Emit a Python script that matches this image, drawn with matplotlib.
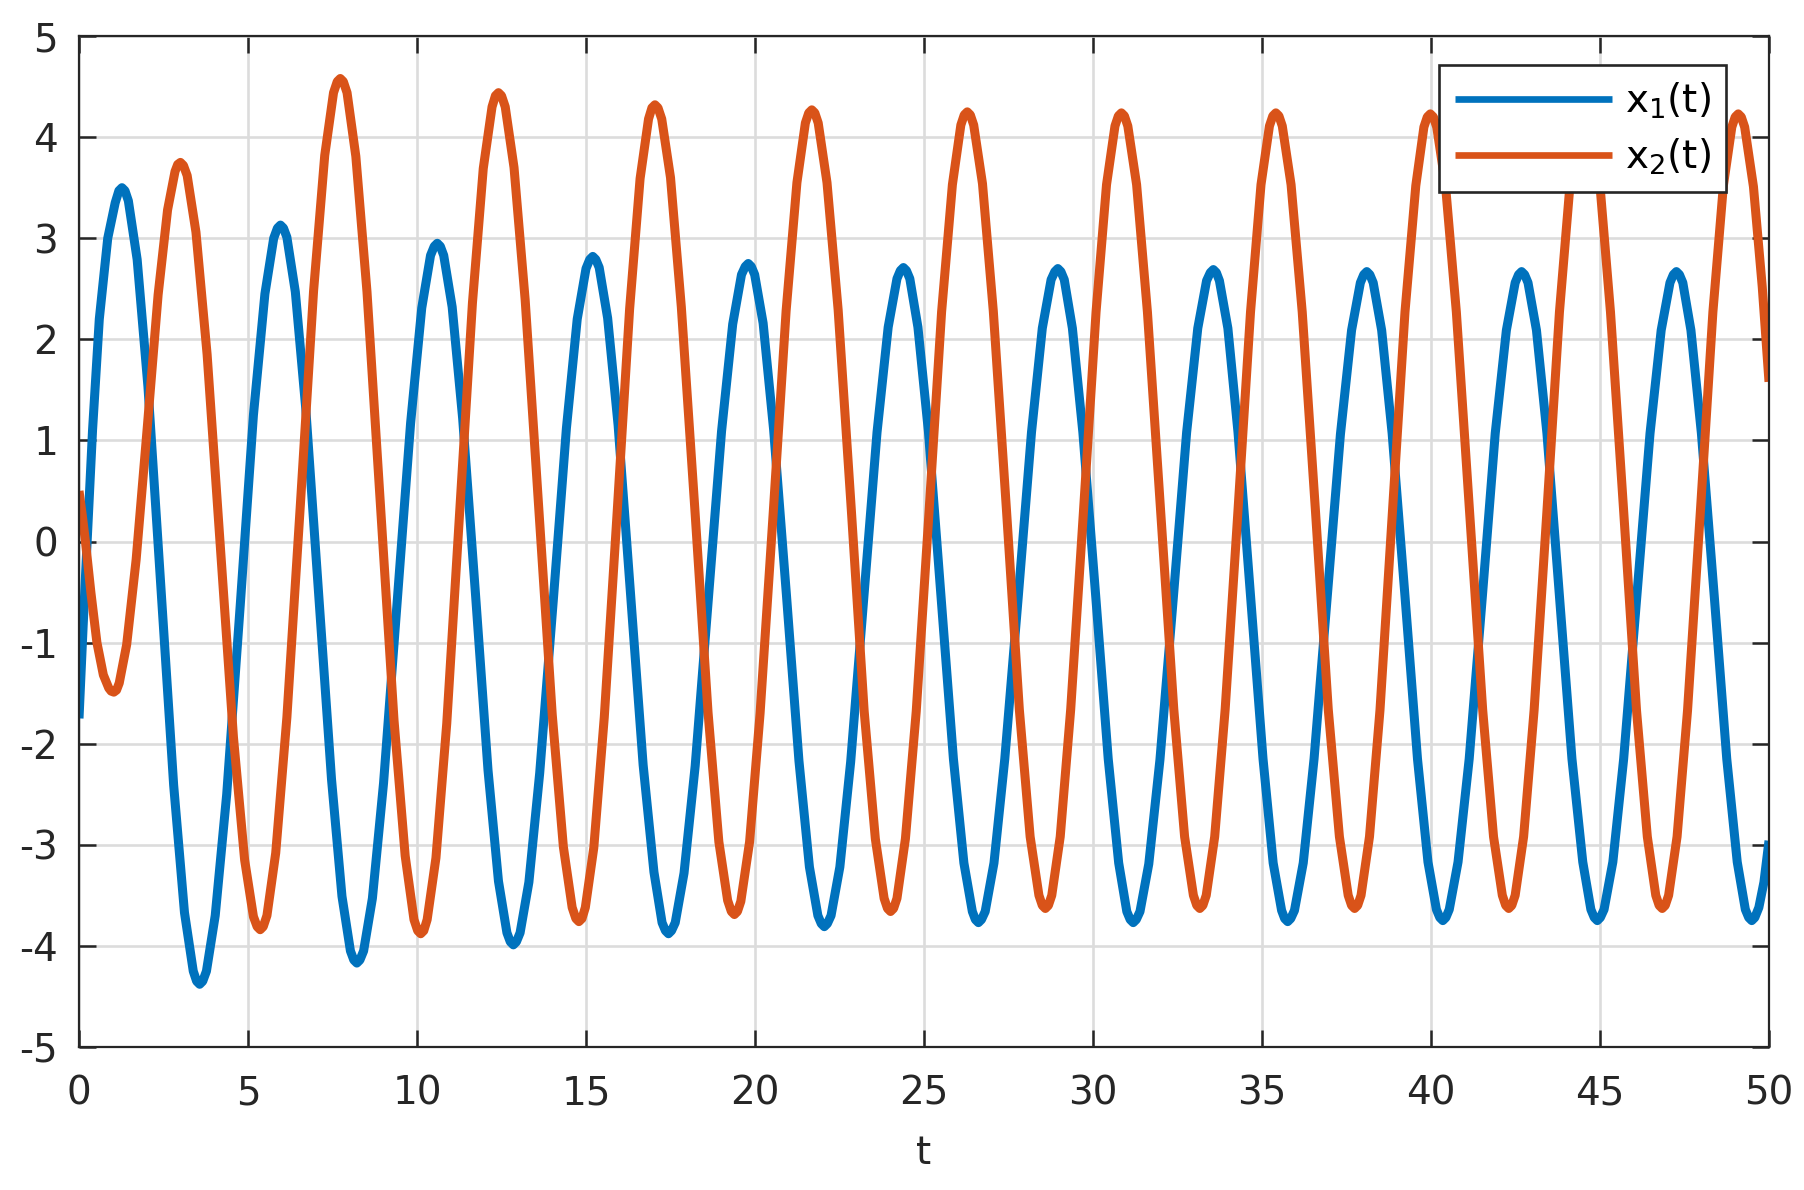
import matplotlib
matplotlib.use("Agg")
import matplotlib.pyplot as plt

# values: one row per half swing,
# from one extremum up to (not including) the next one
t1 = [
    0.00, 0.12, 0.24, 0.40, 0.60, 0.85, 1.07, 1.18,
    1.27, 1.36, 1.46, 1.72, 2.04, 2.42, 2.80, 3.12, 3.38, 3.48,
    3.57, 3.66, 3.77, 4.03, 4.37, 4.77, 5.16, 5.50, 5.76, 5.87,
    5.96, 6.05, 6.15, 6.40, 6.71, 7.09, 7.47, 7.78, 8.03, 8.13,
    8.22, 8.31, 8.42, 8.68, 9.01, 9.41, 9.81, 10.14, 10.40, 10.51,
    10.60, 10.69, 10.79, 11.04, 11.35, 11.73, 12.10, 12.41, 12.66, 12.76,
    12.85, 12.94, 13.05, 13.31, 13.63, 14.03, 14.42, 14.74, 15.00, 15.11,
    15.20, 15.29, 15.39, 15.64, 15.95, 16.32, 16.69, 17.01, 17.25, 17.35,
    17.44, 17.53, 17.64, 17.90, 18.23, 18.62, 19.01, 19.34, 19.60, 19.71,
    19.80, 19.89, 19.99, 20.24, 20.55, 20.93, 21.30, 21.61, 21.86, 21.96,
    22.05, 22.14, 22.25, 22.51, 22.83, 23.22, 23.61, 23.94, 24.20, 24.30,
    24.39, 24.48, 24.58, 24.82, 25.13, 25.50, 25.87, 26.18, 26.43, 26.52,
    26.61, 26.70, 26.81, 27.07, 27.39, 27.79, 28.18, 28.50, 28.76, 28.87,
    28.96, 29.05, 29.15, 29.39, 29.70, 30.08, 30.45, 30.76, 31.00, 31.10,
    31.19, 31.28, 31.39, 31.65, 31.98, 32.38, 32.77, 33.10, 33.36, 33.47,
    33.56, 33.65, 33.74, 33.99, 34.29, 34.66, 35.03, 35.33, 35.58, 35.67,
    35.76, 35.85, 35.96, 36.22, 36.54, 36.93, 37.32, 37.65, 37.91, 38.01,
    38.10, 38.19, 38.29, 38.54, 38.85, 39.23, 39.60, 39.91, 40.16, 40.26,
    40.35, 40.44, 40.54, 40.80, 41.13, 41.52, 41.90, 42.23, 42.49, 42.59,
    42.68, 42.77, 42.87, 43.12, 43.43, 43.80, 44.17, 44.49, 44.73, 44.83,
    44.92, 45.01, 45.12, 45.38, 45.70, 46.09, 46.48, 46.81, 47.07, 47.17,
    47.26, 47.35, 47.45, 47.69, 48.00, 48.38, 48.75, 49.06, 49.30, 49.40,
    49.49, 49.58, 49.70, 49.85, 50.00,
]
x1 = [
    -1.75, -0.85, 0.00, 1.10, 2.20, 3.00, 3.35, 3.47,
    3.50, 3.47, 3.37, 2.79, 1.53, -0.44, -2.41, -3.67, -4.25, -4.35,
    -4.38, -4.35, -4.25, -3.70, -2.50, -0.63, 1.25, 2.45, 3.00, 3.10,
    3.13, 3.10, 3.01, 2.47, 1.31, -0.52, -2.35, -3.51, -4.05, -4.14,
    -4.17, -4.14, -4.05, -3.53, -2.39, -0.61, 1.17, 2.31, 2.83, 2.92,
    2.95, 2.92, 2.83, 2.32, 1.22, -0.52, -2.26, -3.36, -3.87, -3.96,
    -3.99, -3.96, -3.87, -3.37, -2.29, -0.59, 1.12, 2.20, 2.70, 2.79,
    2.82, 2.79, 2.71, 2.21, 1.15, -0.53, -2.21, -3.27, -3.77, -3.85,
    -3.88, -3.85, -3.77, -3.28, -2.22, -0.57, 1.09, 2.15, 2.64, 2.72,
    2.75, 2.72, 2.64, 2.16, 1.11, -0.53, -2.17, -3.22, -3.70, -3.78,
    -3.81, -3.78, -3.70, -3.22, -2.18, -0.55, 1.08, 2.12, 2.60, 2.68,
    2.71, 2.68, 2.60, 2.12, 1.09, -0.53, -2.15, -3.18, -3.66, -3.74,
    -3.77, -3.74, -3.66, -3.18, -2.15, -0.54, 1.08, 2.11, 2.59, 2.67,
    2.70, 2.67, 2.59, 2.11, 1.08, -0.54, -2.15, -3.18, -3.66, -3.74,
    -3.77, -3.74, -3.66, -3.19, -2.16, -0.54, 1.08, 2.11, 2.58, 2.66,
    2.69, 2.66, 2.58, 2.11, 1.08, -0.54, -2.15, -3.18, -3.65, -3.73,
    -3.76, -3.73, -3.65, -3.18, -2.15, -0.55, 1.06, 2.09, 2.56, 2.64,
    2.67, 2.64, 2.56, 2.09, 1.07, -0.54, -2.15, -3.17, -3.64, -3.72,
    -3.75, -3.72, -3.64, -3.17, -2.15, -0.54, 1.07, 2.09, 2.56, 2.64,
    2.67, 2.64, 2.56, 2.09, 1.07, -0.54, -2.15, -3.17, -3.64, -3.72,
    -3.75, -3.72, -3.64, -3.17, -2.15, -0.54, 1.07, 2.09, 2.56, 2.64,
    2.67, 2.64, 2.56, 2.09, 1.07, -0.54, -2.15, -3.17, -3.64, -3.72,
    -3.75, -3.72, -3.62, -3.37, -2.96,
]

t2 = [
    0.00, 0.10, 0.19, 0.35, 0.53, 0.72, 0.88, 0.95,
    1.03, 1.11, 1.19, 1.41, 1.69, 2.02, 2.34, 2.62, 2.84, 2.92,
    3.00, 3.09, 3.20, 3.46, 3.79, 4.18, 4.57, 4.90, 5.16, 5.27,
    5.36, 5.45, 5.56, 5.82, 6.15, 6.55, 6.94, 7.27, 7.53, 7.64,
    7.73, 7.82, 7.93, 8.19, 8.52, 8.92, 9.32, 9.65, 9.91, 10.02,
    10.11, 10.20, 10.30, 10.56, 10.88, 11.26, 11.64, 11.96, 12.22, 12.32,
    12.41, 12.50, 12.61, 12.87, 13.20, 13.60, 14.00, 14.33, 14.59, 14.70,
    14.79, 14.88, 14.98, 15.23, 15.54, 15.92, 16.29, 16.60, 16.85, 16.95,
    17.04, 17.13, 17.24, 17.50, 17.82, 18.22, 18.61, 18.93, 19.19, 19.30,
    19.39, 19.48, 19.58, 19.84, 20.15, 20.54, 20.92, 21.24, 21.49, 21.59,
    21.68, 21.77, 21.87, 22.13, 22.46, 22.85, 23.23, 23.56, 23.82, 23.92,
    24.01, 24.10, 24.20, 24.45, 24.77, 25.15, 25.52, 25.84, 26.09, 26.19,
    26.28, 26.37, 26.47, 26.73, 27.05, 27.44, 27.82, 28.14, 28.40, 28.50,
    28.59, 28.68, 28.78, 29.03, 29.34, 29.72, 30.09, 30.40, 30.65, 30.75,
    30.84, 30.93, 31.03, 31.29, 31.61, 32.00, 32.39, 32.71, 32.97, 33.07,
    33.16, 33.25, 33.35, 33.60, 33.91, 34.29, 34.66, 34.97, 35.22, 35.32,
    35.41, 35.50, 35.60, 35.86, 36.19, 36.58, 36.96, 37.29, 37.55, 37.65,
    37.74, 37.83, 37.93, 38.18, 38.49, 38.86, 39.23, 39.55, 39.79, 39.89,
    39.98, 40.07, 40.17, 40.43, 40.75, 41.14, 41.53, 41.85, 42.11, 42.21,
    42.30, 42.39, 42.49, 42.74, 43.05, 43.43, 43.80, 44.11, 44.36, 44.46,
    44.55, 44.64, 44.74, 45.00, 45.31, 45.70, 46.08, 46.40, 46.65, 46.75,
    46.84, 46.93, 47.03, 47.28, 47.59, 47.97, 48.34, 48.65, 48.90, 49.00,
    49.09, 49.18, 49.28, 49.54, 49.80, 50.00,
]
x2 = [
    0.50, 0.25, 0.00, -0.50, -1.00, -1.32, -1.45, -1.48,
    -1.49, -1.47, -1.40, -1.02, -0.18, 1.13, 2.44, 3.28, 3.66, 3.73,
    3.75, 3.72, 3.62, 3.06, 1.85, -0.05, -1.94, -3.15, -3.71, -3.81,
    -3.84, -3.81, -3.70, -3.08, -1.74, 0.37, 2.48, 3.82, 4.44, 4.55,
    4.58, 4.55, 4.44, 3.81, 2.47, 0.35, -1.77, -3.11, -3.74, -3.85,
    -3.88, -3.85, -3.74, -3.13, -1.80, 0.28, 2.36, 3.69, 4.30, 4.41,
    4.44, 4.41, 4.30, 3.70, 2.39, 0.34, -1.71, -3.02, -3.62, -3.73,
    -3.76, -3.73, -3.62, -3.03, -1.74, 0.28, 2.30, 3.59, 4.18, 4.29,
    4.32, 4.29, 4.18, 3.60, 2.32, 0.32, -1.69, -2.97, -3.55, -3.66,
    -3.69, -3.66, -3.56, -2.97, -1.70, 0.29, 2.28, 3.55, 4.14, 4.24,
    4.27, 4.24, 4.14, 3.55, 2.29, 0.31, -1.68, -2.94, -3.53, -3.63,
    -3.66, -3.63, -3.53, -2.94, -1.68, 0.30, 2.27, 3.53, 4.12, 4.22,
    4.25, 4.22, 4.12, 3.54, 2.28, 0.31, -1.66, -2.92, -3.50, -3.60,
    -3.63, -3.60, -3.50, -2.92, -1.66, 0.31, 2.27, 3.53, 4.11, 4.21,
    4.24, 4.21, 4.11, 3.53, 2.27, 0.31, -1.66, -2.92, -3.50, -3.60,
    -3.63, -3.60, -3.50, -2.92, -1.66, 0.31, 2.27, 3.53, 4.11, 4.21,
    4.24, 4.21, 4.11, 3.53, 2.27, 0.31, -1.66, -2.92, -3.50, -3.60,
    -3.63, -3.60, -3.50, -2.92, -1.67, 0.30, 2.27, 3.52, 4.10, 4.20,
    4.23, 4.20, 4.10, 3.52, 2.27, 0.30, -1.67, -2.92, -3.50, -3.60,
    -3.63, -3.60, -3.50, -2.92, -1.67, 0.30, 2.27, 3.52, 4.10, 4.20,
    4.23, 4.20, 4.10, 3.52, 2.27, 0.30, -1.67, -2.92, -3.50, -3.60,
    -3.63, -3.60, -3.50, -2.92, -1.67, 0.30, 2.27, 3.52, 4.10, 4.20,
    4.23, 4.20, 4.10, 3.51, 2.52, 1.58,
]

x_ticks = [0, 5, 10, 15, 20, 25, 30, 35, 40, 45, 50]
y_ticks = [-5, -4, -3, -2, -1, 0, 1, 2, 3, 4, 5]
labels = ["x$_1$(t)", "x$_2$(t)"]

plt.rcParams["font.family"] = ["DejaVu Sans"]
plt.rcParams["mathtext.default"] = "regular"
plt.rcParams["axes.unicode_minus"] = False

fig = plt.figure(figsize=(18.04, 11.90), dpi=100)
ax = fig.add_axes([0.0438, 0.1202, 0.9368, 0.8495])

ax.plot(t1, x1, color="#0072BD", lw=6.5, solid_joinstyle="round", solid_capstyle="butt", label=labels[0])
ax.plot(t2, x2, color="#D95319", lw=6.5, solid_joinstyle="round", solid_capstyle="butt", label=labels[1])

ax.set_xlim(0, 50)
ax.set_ylim(-5, 5)
ax.set_xticks(x_ticks)
ax.set_yticks(y_ticks)
ax.set_xticklabels([str(v) for v in x_ticks])
ax.set_yticklabels([str(v) for v in y_ticks])

ax.grid(True, color="#dcdcdc", lw=1.9)
ax.set_axisbelow(True)
for s in ax.spines.values():
    s.set_linewidth(1.6)
    s.set_color("#262626")

ax.tick_params(axis="both", direction="in", length=12, width=1.8, color="#262626",
               labelsize=28, labelcolor="#262626", top=True, right=True)
ax.tick_params(axis="x", pad=20)
ax.tick_params(axis="y", pad=15)

ax.set_xlabel("t", fontsize=28, color="#262626", labelpad=15)

leg = ax.legend(loc="upper right", bbox_to_anchor=(0.9746, 0.9713), borderaxespad=0,
                fontsize=28, handlelength=4.04, handletextpad=0.33, borderpad=0.4,
                labelspacing=0.4, fancybox=False, framealpha=1, edgecolor="#262626")
leg.get_frame().set_linewidth(1.9)
for line in leg.get_lines():
    line.set_linewidth(4.8)

fig.savefig("out.png", dpi=100, facecolor="white")
